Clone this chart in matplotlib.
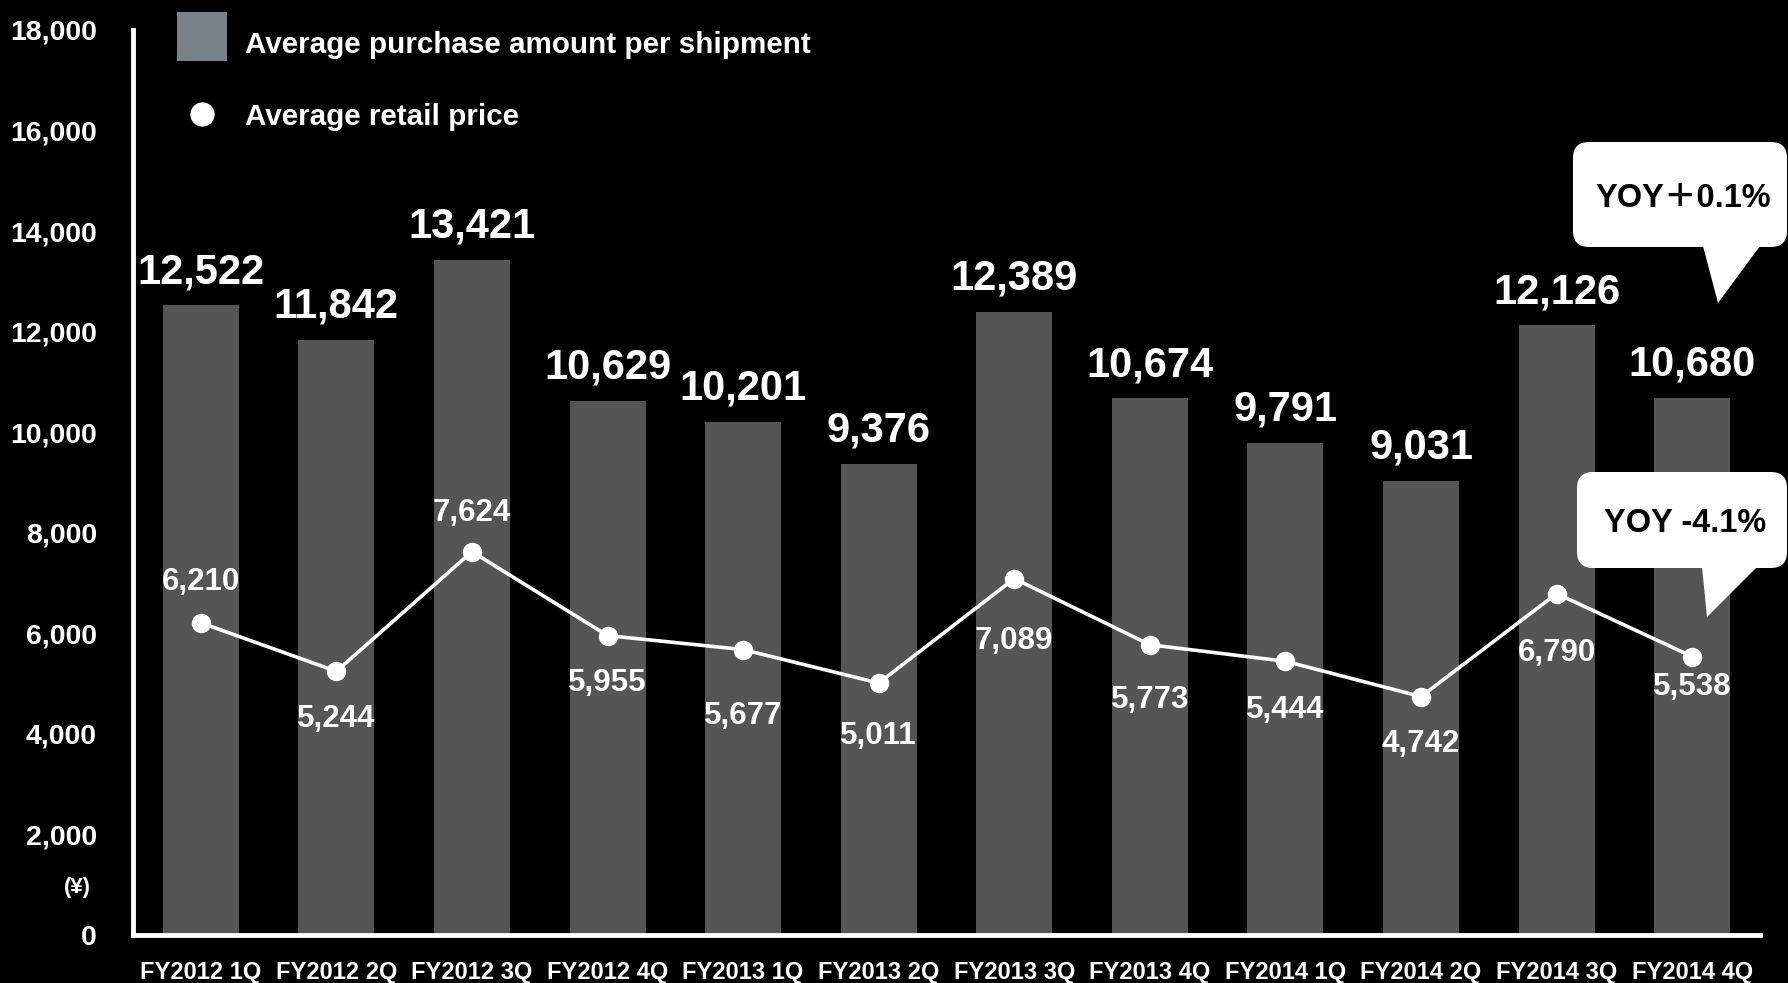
#!/usr/bin/env python3
"""
Average purchase amount per shipment (bars) and average retail price (line),
quarterly FY2012-FY2014, on a black background.
Output: out.png
"""
import matplotlib.pyplot as plt
from matplotlib.patches import FancyBboxPatch, Polygon, Rectangle

plt.rcParams["font.family"] = ["Liberation Sans", "Noto Sans CJK JP", "DejaVu Sans"]
plt.rcParams["font.weight"] = "bold"

quarters = ["FY2012 1Q", "FY2012 2Q", "FY2012 3Q", "FY2012 4Q",
            "FY2013 1Q", "FY2013 2Q", "FY2013 3Q", "FY2013 4Q",
            "FY2014 1Q", "FY2014 2Q", "FY2014 3Q", "FY2014 4Q"]
purchase_amount = [12522, 11842, 13421, 10629, 10201, 9376,
                   12389, 10674, 9791, 9031, 12126, 10680]
retail_price = [6210, 5244, 7624, 5955, 5677, 5011,
                7089, 5773, 5444, 4742, 6790, 5538]
yticks = list(range(0, 18001, 2000))
series_names = ["Average purchase amount per shipment", "Average retail price"]
yoy_bar = "YOY＋0.1%"
yoy_line = "YOY -4.1%"

# vertical placement of the price labels (points, + is up)
price_label_dy = [29, -34, 28, -34, -48, -38, -45, -40, -35, -34, -43, -22]

BG = "black"
BAR = "#555555"
LEGEND_BAR = "#77828a"
W, H = 1788, 983


def fmt(v):
    return f"{v:,}"


def main():
    fig = plt.figure(figsize=(W / 100, H / 100), dpi=100, facecolor=BG)
    ax = fig.add_axes([133 / W, 1 - 935 / H, (1760 - 133) / W, (935 - 30) / H])
    ax.set_facecolor(BG)

    x = list(range(len(quarters)))
    bars = ax.bar(x, purchase_amount, width=0.56, color=BAR, zorder=2)
    ax.plot(x, retail_price, color="white", linewidth=2.6, marker="o",
            markersize=13, markerfacecolor="white", markeredgecolor="white", zorder=3)

    for rect, v in zip(bars, purchase_amount):
        ax.annotate(fmt(v), (rect.get_x() + rect.get_width() / 2, v),
                    xytext=(0, 16), textcoords="offset points",
                    ha="center", va="baseline", color="white",
                    fontsize=30, fontweight="bold", zorder=4)

    for xi, v, dy in zip(x, retail_price, price_label_dy):
        ax.annotate(fmt(v), (xi, v), xytext=(0, dy), textcoords="offset points",
                    ha="center", va="center", color="white",
                    fontsize=22.5, fontweight="bold", zorder=4)

    ax.set_xlim(-0.5, len(quarters) - 0.5)
    ax.set_ylim(0, 18000)
    ax.set_xticks(x)
    ax.set_xticklabels(quarters, fontsize=17, fontweight="bold", color="white")
    ax.set_yticks(yticks)
    ax.set_yticklabels([fmt(v) for v in yticks], fontsize=20.5,
                       fontweight="bold", color="white")
    ax.tick_params(axis="both", length=0)
    ax.tick_params(axis="y", pad=26)
    ax.tick_params(axis="x", pad=18.5)

    for side in ("top", "right"):
        ax.spines[side].set_visible(False)
    for side in ("left", "bottom"):
        ax.spines[side].set_color("white")
        ax.spines[side].set_linewidth(3.5)

    # currency unit under the y tick labels
    ax.annotate("(¥)", (0, 950), xycoords=("axes fraction", "data"),
                xytext=(-40, 0), textcoords="offset points",
                ha="center", va="center", color="white",
                fontsize=16, fontweight="bold")

    # legend and speech-bubble callouts, laid out in pixel space on top
    ov = fig.add_axes([0, 0, 1, 1], zorder=10)
    ov.set_xlim(0, W)
    ov.set_ylim(H, 0)
    ov.axis("off")

    ov.add_patch(Rectangle((177, 12), 50, 49, facecolor=LEGEND_BAR, edgecolor="none"))
    ov.plot([202], [114], marker="o", markersize=16.5, color="white", linestyle="none")
    for name, base in zip(series_names, (53, 125)):
        ov.text(245, base, name, ha="left", va="baseline", color="white",
                fontsize=21.3, fontweight="bold")

    def bubble(x0, y0, y1, tri, text):
        box = FancyBboxPatch((x0, y0), W - 1 - x0, y1 - y0,
                             boxstyle="round,pad=0,rounding_size=16",
                             facecolor="white", edgecolor="none")
        ov.add_patch(box)
        ov.add_patch(Polygon(tri, closed=True, facecolor="white", edgecolor="none"))
        ov.text((x0 + W) / 2 + 3, (y0 + y1) / 2 + 4, text, ha="center", va="center",
                color="black", fontsize=23.5, fontweight="bold",
                family=["Liberation Sans", "Noto Sans CJK JP"])

    bubble(1573, 142, 247, [(1703, 246), (1760, 246), (1718, 303)], yoy_bar)
    bubble(1577, 472, 568, [(1702, 567), (1757, 567), (1707, 617)], yoy_line)

    fig.savefig("out.png", dpi=100, facecolor=BG)
    plt.close(fig)


if __name__ == "__main__":
    main()
